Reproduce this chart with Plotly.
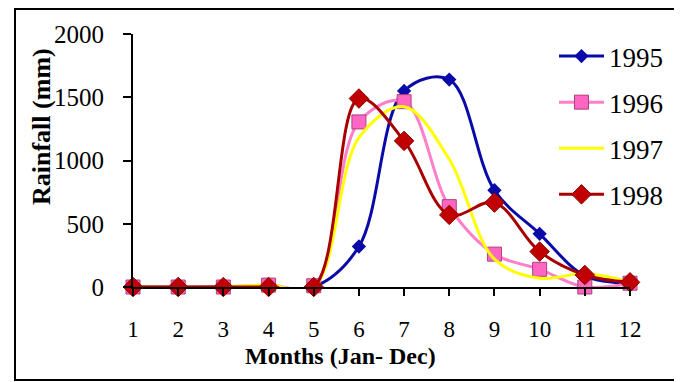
import plotly.graph_objects as go

# months and rainfall (mm) per year
months = [1, 2, 3, 4, 5, 6, 7, 8, 9, 10, 11, 12]
rain_1995 = [0, 0, 0, 0, 0, 320, 1550, 1640, 765, 420, 90, 30]
rain_1996 = [0, 0, 0, 15, 10, 1305, 1465, 635, 260, 140, 0, 30]
rain_1997 = [0, 0, 0, 15, 0, 1180, 1425, 1010, 220, 70, 105, 40]
rain_1998 = [0, 0, 0, 0, 0, 1490, 1155, 570, 667, 280, 95, 37]

y_ticks = [0, 500, 1000, 1500, 2000]

serif = "Liberation Serif"

# the page body has an 8px margin, so the figure is drawn 8px smaller
# and every pixel position below is (reference position - 8)
W, H = 674, 374
L, R, T, B = 125, 52, 26, 95
pw, ph = W - L - R, H - T - B


def px(x):
    return (x - 8 - L) / pw


def py(y):
    return (H - B - (y - 8)) / ph


fig = go.Figure()

# one trace per year
fig.add_trace(go.Scatter(
    x=months, y=rain_1995, name='1995', mode='lines+markers',
    line=dict(color='#0a0aa8', width=3, shape='spline', smoothing=1),
    marker=dict(symbol='diamond', size=11, color='#0a0aa8'),
    cliponaxis=False, legendgroup='a'
))
fig.add_trace(go.Scatter(
    x=months, y=rain_1996, name='1996', mode='lines+markers',
    line=dict(color='#ff7fc8', width=3, shape='spline', smoothing=1),
    marker=dict(symbol='square', size=14, color='#ff66c4',
                line=dict(color='#b0407a', width=1)),
    cliponaxis=False, legendgroup='b'
))
fig.add_trace(go.Scatter(
    x=months, y=rain_1997, name='1997', mode='lines',
    line=dict(color='#ffff00', width=3, shape='spline', smoothing=1),
    cliponaxis=False, legendgroup='c'
))
fig.add_trace(go.Scatter(
    x=months, y=rain_1998, name='1998', mode='lines+markers',
    line=dict(color='#a80000', width=3, shape='spline', smoothing=1),
    marker=dict(symbol='diamond', size=15, color='#c00000',
                line=dict(color='#900000', width=1)),
    cliponaxis=False, legendgroup='d'
))

fig.update_layout(
    width=W, height=H,
    margin=dict(l=L, r=R, t=T, b=B),
    paper_bgcolor='white', plot_bgcolor='white',
    font=dict(family=serif, size=25, color='black'),
    showlegend=True,
    legend=dict(x=px(554), y=py(32), xanchor='left', yanchor='top',
                font=dict(size=27), itemwidth=45, tracegroupgap=8,
                bgcolor='rgba(0,0,0,0)'),
    xaxis=dict(range=[1, 12], tickvals=months, showline=True, linecolor='black',
               linewidth=2, ticks='outside', ticklen=7, tickwidth=2, tickcolor='black',
               showgrid=False, zeroline=False, ticklabelstandoff=13,
               tickfont=dict(size=23)),
    yaxis=dict(range=[0, 2000], tickvals=y_ticks, showline=True, linecolor='black',
               linewidth=2, ticks='outside', ticklen=8, tickwidth=2, tickcolor='black',
               showgrid=False, zeroline=False, ticklabelstandoff=14),
    annotations=[
        dict(text='<b>Months (Jan- Dec)</b>', xref='paper', yref='paper',
             x=px(340), y=py(356), xanchor='center', yanchor='middle',
             showarrow=False, font=dict(size=24)),
        dict(text='<b>Rainfall (mm)</b>', xref='paper', yref='paper',
             x=px(41), y=py(127), xanchor='center', yanchor='middle',
             showarrow=False, textangle=-90, font=dict(size=26)),
    ],
    shapes=[
        dict(type='rect', xref='paper', yref='paper',
             x0=px(15), x1=px(680), y0=py(380), y1=py(9),
             line=dict(color='black', width=2)),
    ],
)

fig.write_html("out.html")
